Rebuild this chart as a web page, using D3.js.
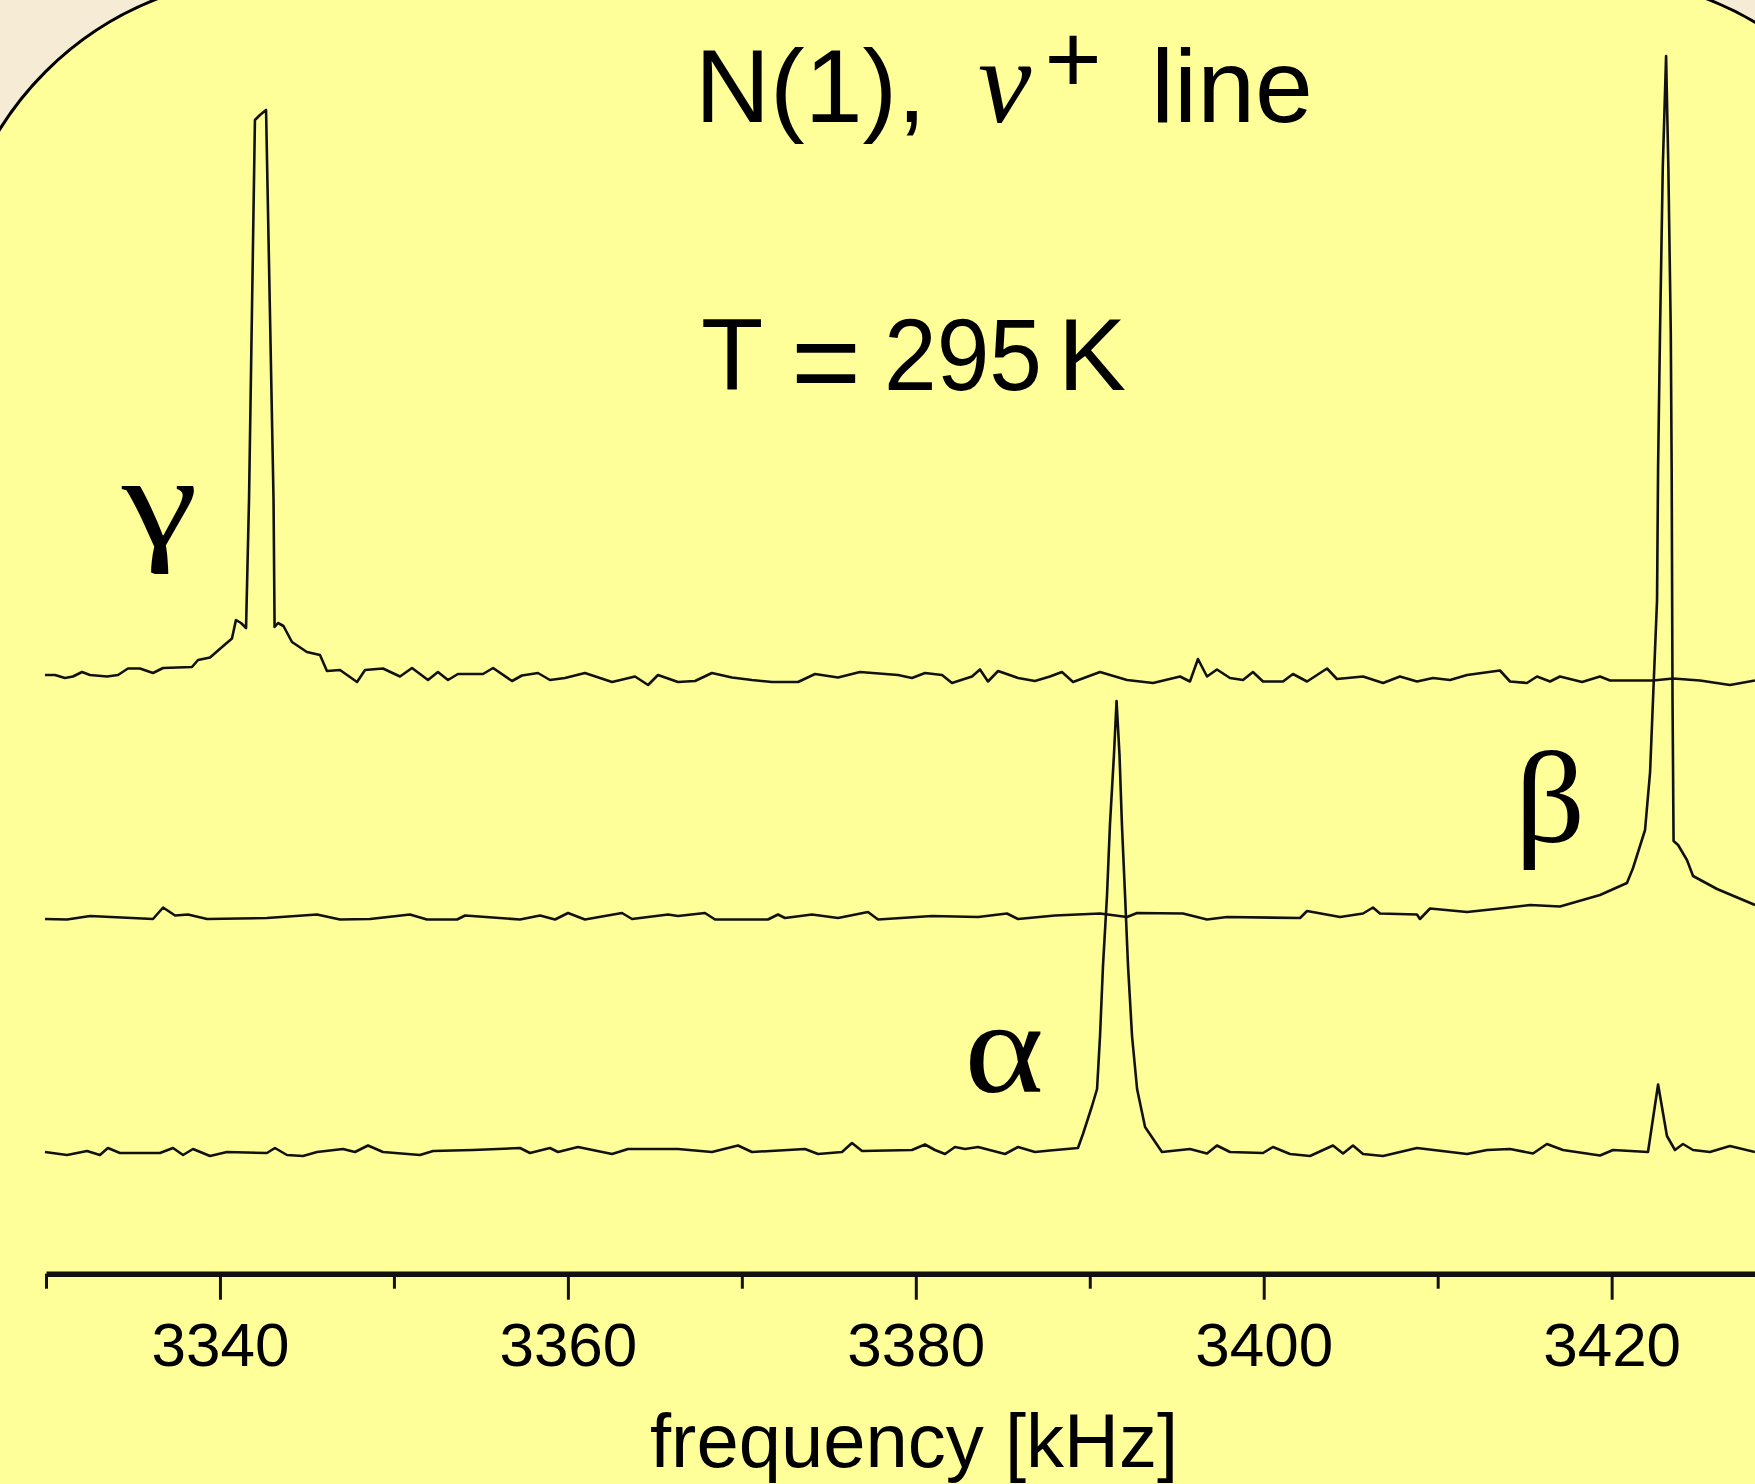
<!DOCTYPE html>
<html>
<head>
<meta charset="utf-8">
<script src="https://cdn.jsdelivr.net/npm/d3@7"></script>
<style>
  body { margin: 0; background: #f6ecd6; }
  svg { display: block; }
  .sans { font-family: "Liberation Sans", Arial, sans-serif; }
  .serif { font-family: "Liberation Serif", "Times New Roman", serif; }
</style>
</head>
<body>
<div id="chart"></div>
<script>
// spectra: [frequency kHz, signal a.u. above own baseline]
var gammaTrace = [
  [3329.94, 0.4], [3330.52, 0.4], [3331.09, -0.2], [3331.55, 0.1], [3332.07, 1.0], [3332.53, 0.4],
  [3333.51, 0.1], [3334.14, 0.4], [3334.71, 1.7], [3335.40, 1.7], [3336.15, 0.8], [3336.73, 1.8],
  [3338.39, 2.0], [3338.74, 3.4], [3339.43, 3.9], [3340.12, 6.0], [3340.69, 7.7], [3340.92, 11.4],
  [3341.21, 10.8], [3341.50, 9.8], [3341.67, 35.4], [3342.01, 111.4], [3342.30, 112.4], [3342.65, 113.4],
  [3343.08, 35.4], [3343.14, 10.0], [3343.34, 10.8], [3343.65, 10.2], [3344.14, 7.0], [3345.00, 5.0],
  [3345.75, 4.4], [3346.15, 1.2], [3346.90, 1.4], [3347.88, -1.0], [3348.34, 1.4], [3349.37, 1.7],
  [3350.35, 0.1], [3351.04, 1.8], [3351.96, -0.6], [3352.53, 1.0], [3353.11, -0.6], [3353.68, 0.6],
  [3355.12, 0.6], [3355.70, 1.8], [3356.79, -0.8], [3357.36, 0.3], [3358.28, 0.8], [3358.97, -0.6],
  [3359.83, -0.2], [3360.98, 0.8], [3362.54, -1.0], [3363.86, 0.1], [3364.61, -1.6], [3365.18, 0.4],
  [3366.33, -1.0], [3367.31, -0.8], [3368.28, 0.8], [3369.43, -0.1], [3370.58, -0.6], [3371.73, -1.0],
  [3373.23, -1.0], [3374.21, 0.6], [3375.53, -0.1], [3376.79, 1.0], [3378.98, 0.4], [3379.78, -0.2],
  [3380.53, 0.8], [3381.51, 0.4], [3382.08, -1.2], [3383.23, 0.1], [3383.69, 1.5], [3384.15, -0.9],
  [3384.73, 1.2], [3385.88, -0.2], [3386.85, -0.8], [3387.71, 0.1], [3388.40, 1.0], [3389.04, -1.0],
  [3390.59, 1.0], [3392.14, -0.6], [3393.64, -1.2], [3395.19, 0.1], [3395.76, -0.9], [3396.22, 3.6],
  [3396.74, 0.1], [3397.31, 1.5], [3398.06, -0.2], [3398.81, -0.6], [3399.38, 1.0], [3399.96, -0.9],
  [3401.11, -0.9], [3401.68, 0.6], [3402.49, -0.9], [3403.64, 1.7], [3404.21, -0.4], [3405.71, 0.1],
  [3406.86, -1.2], [3407.83, 0.1], [3408.81, -0.9], [3409.73, -0.2], [3410.71, -0.6], [3411.69, 0.4],
  [3413.58, 1.3], [3414.16, -0.9], [3415.13, -1.2], [3415.71, 0.1], [3416.46, -0.9], [3417.03, 0.1],
  [3418.30, -1.0], [3419.33, 0.1], [3419.91, -0.7], [3422.38, -0.7], [3423.53, -0.3], [3425.08, -0.7],
  [3426.80, -1.6], [3428.24, -0.7]
];

var betaTrace = [
  [3329.94, -0.4], [3331.21, -0.5], [3332.53, 0.2], [3336.15, -0.4], [3336.73, 1.9], [3337.42, 0.3],
  [3338.16, 0.5], [3339.26, -0.4], [3342.70, -0.2], [3345.58, 0.5], [3346.90, -0.5], [3348.63, -0.4],
  [3350.92, 0.5], [3351.90, -0.5], [3353.63, -0.5], [3354.09, 0.3], [3357.25, -0.5], [3358.40, 0.3],
  [3359.26, -0.5], [3360.01, 0.8], [3360.98, -0.5], [3363.11, 0.8], [3363.69, -0.4], [3365.76, 0.5],
  [3366.33, 0.2], [3367.88, 0.8], [3368.46, -0.5], [3371.50, -0.5], [3372.08, 0.5], [3372.48, -0.2],
  [3374.03, 0.5], [3375.53, -0.2], [3377.25, 1.0], [3377.83, -0.5], [3380.93, 0.2], [3383.58, 0.0],
  [3385.24, 0.7], [3385.88, -0.4], [3388.00, 0.3], [3390.59, 0.7], [3392.14, 0.0], [3392.72, 0.8],
  [3395.36, 0.7], [3396.74, -0.5], [3397.89, 0.0], [3402.09, -0.2], [3402.49, 1.2], [3404.39, 0.0],
  [3405.71, 0.7], [3406.28, 1.9], [3406.68, 0.7], [3408.81, 0.5], [3408.98, -0.4], [3409.56, 1.7],
  [3411.69, 1.0], [3413.58, 1.7], [3415.31, 2.4], [3417.03, 2.1], [3419.33, 4.4], [3420.88, 6.8],
  [3421.23, 9.8], [3421.92, 17.4], [3422.21, 29.0], [3422.61, 63.4], [3422.67, 90.0], [3422.78, 116.8],
  [3422.94, 150.0], [3423.13, 172.2], [3423.26, 150.0], [3423.40, 116.8], [3423.45, 90.0], [3423.50, 43.4],
  [3423.56, 15.2], [3423.82, 14.4], [3424.33, 11.4], [3424.68, 8.2], [3426.06, 5.6], [3428.24, 2.4]
];

var alphaTrace = [
  [3329.94, -0.3], [3331.21, -0.9], [3332.36, -0.1], [3333.10, -0.9], [3333.56, 0.5], [3334.25, -0.5],
  [3336.55, -0.5], [3337.30, 0.5], [3337.88, -0.9], [3338.45, 0.3], [3339.43, -1.1], [3340.40, -0.3],
  [3342.70, -0.5], [3343.16, 0.5], [3343.85, -0.9], [3344.77, -1.1], [3345.58, -0.3], [3347.07, 0.3],
  [3347.76, -0.3], [3348.51, 1.0], [3349.37, -0.3], [3351.50, -0.9], [3352.25, -0.1], [3354.55, 0.1],
  [3357.25, 0.5], [3357.82, -0.5], [3358.97, 0.5], [3359.43, -0.3], [3360.58, 0.7], [3362.54, -0.7],
  [3363.46, 0.3], [3366.33, 0.3], [3368.28, -0.3], [3369.78, 1.0], [3370.58, -0.3], [3373.63, 0.3],
  [3374.38, -0.7], [3375.76, -0.3], [3376.33, 1.5], [3376.91, -0.1], [3379.78, 0.1], [3380.53, 1.2],
  [3381.10, 0.1], [3381.68, -0.7], [3382.25, 0.7], [3382.83, 0.3], [3383.58, 0.7], [3385.13, -0.7],
  [3385.88, 0.7], [3386.85, -0.3], [3387.71, 0.0], [3389.32, 0.5], [3389.61, 3.3], [3390.13, 8.9],
  [3390.42, 12.3], [3390.59, 22.9], [3390.76, 36.9], [3390.99, 50.9], [3391.16, 65.1], [3391.39, 79.1],
  [3391.54, 89.9], [3391.71, 79.1], [3391.85, 65.1], [3392.03, 50.9], [3392.20, 36.9], [3392.43, 22.9],
  [3392.72, 12.3], [3393.18, 4.7], [3394.15, -0.3], [3395.76, 0.3], [3396.74, -0.6], [3397.31, 1.0],
  [3398.06, -0.3], [3399.96, -0.5], [3400.53, 0.7], [3401.51, -0.7], [3402.66, -1.1], [3403.98, 1.0],
  [3404.56, -0.6], [3405.13, 1.0], [3405.71, -0.7], [3406.86, -1.1], [3408.81, 0.5], [3411.69, -0.7],
  [3412.84, 0.1], [3414.16, 0.3], [3415.48, -0.6], [3416.28, 1.3], [3417.20, 0.1], [3419.33, -1.0],
  [3420.08, 0.1], [3422.09, -0.3], [3422.67, 13.2], [3423.18, 2.9], [3423.64, 0.1], [3424.10, 1.3],
  [3424.68, 0.1], [3425.65, -0.3], [3426.80, 0.9], [3428.24, -0.3]
];

// vertical offset of each trace (a.u.)
var traceNames = ["alpha", "beta", "gamma"];
var traceOffsets = [0, 46.7, 94.7];
var peakLabels = ["α", "β", "γ"];
var peakLabelFreq = [3385.07, 3416.46, 3336.55];
var peakLabelLevel = [11.7, 61.7, 120.9];
var peakLabelStretch = [1.15, 1.05, 1.3];

var tickValues = [3330, 3340, 3350, 3360, 3370, 3380, 3390, 3400, 3410, 3420];
var majorTicks = [3340, 3360, 3380, 3400, 3420];

var width = 1755, height = 1484;

var svg = d3.select("#chart").append("svg")
  .attr("width", width)
  .attr("height", height);

// beige backdrop and the rounded yellow panel
svg.append("rect").attr("width", width).attr("height", height).attr("fill", "#f6ecd6");
svg.append("rect")
  .attr("x", -49).attr("y", -23)
  .attr("width", 1962).attr("height", 1700)
  .attr("rx", 323).attr("ry", 323)
  .attr("fill", "#ffff99")
  .attr("stroke", "#000")
  .attr("stroke-width", 3);

var x = d3.scaleLinear().domain([3330, 3430]).range([46, 46 + 100 * 17.396]);
var y = d3.scaleLinear().domain([0, 100]).range([1150.5, 650.5]);

var line = d3.line()
  .x(function (d) { return x(d[0]); })
  .y(function (d) { return y(d[1] + d[2]); });

var traces = [alphaTrace, betaTrace, gammaTrace];
traces.forEach(function (tr, i) {
  var pts = tr.map(function (d) { return [d[0], d[1], traceOffsets[i]]; });
  svg.append("path")
    .attr("class", "trace " + traceNames[i])
    .attr("d", line(pts))
    .attr("fill", "none")
    .attr("stroke", "#111")
    .attr("stroke-width", 2.6)
    .attr("stroke-linejoin", "round");
});

// x axis
var xAxis = d3.axisBottom(x)
  .tickValues(tickValues)
  .tickSize(26)
  .tickSizeOuter(0)
  .tickFormat(function (d) { return majorTicks.indexOf(d) >= 0 ? d : ""; });

var gx = svg.append("g")
  .attr("class", "xAxis sans")
  .attr("transform", "translate(0,1273.7)")
  .call(xAxis);

gx.select(".domain").attr("stroke", "#111").attr("stroke-width", 5.5);
gx.selectAll(".tick line")
  .attr("stroke", "#111")
  .attr("stroke-width", 3)
  .attr("y2", function (d) { return majorTicks.indexOf(d) >= 0 ? 26 : 15; });
gx.selectAll(".tick text")
  .attr("y", 92)
  .attr("dy", 0)
  .attr("fill", "#000")
  .attr("font-family", "Liberation Sans, Arial, sans-serif")
  .attr("font-size", 62);

svg.append("text")
  .attr("class", "sans")
  .attr("x", 914).attr("y", 1467)
  .attr("text-anchor", "middle")
  .attr("font-size", 76)
  .text("frequency [kHz]");

// peak labels
svg.selectAll(".peakLabel")
  .data(peakLabels)
  .enter().append("text")
  .attr("class", "peakLabel serif")
  .attr("transform", function (d, i) {
    return "translate(" + x(peakLabelFreq[i]) + "," + y(peakLabelLevel[i]) + ") scale(" + peakLabelStretch[i] + ",1)";
  })
  .attr("text-anchor", "middle")
  .attr("font-size", 132)
  .text(function (d) { return d; });

// title
var title = svg.append("g").attr("class", "title");
title.append("text").attr("class", "sans").attr("x", 695).attr("y", 122)
  .attr("font-size", 104).text("N(1),");
title.append("text").attr("class", "serif").attr("x", 978).attr("y", 122)
  .attr("font-size", 120).attr("font-style", "italic").text("ν");
title.append("text").attr("class", "sans").attr("x", 1073).attr("y", 93)
  .attr("text-anchor", "middle").attr("font-size", 98).text("+");
title.append("text").attr("class", "sans").attr("x", 1151).attr("y", 122)
  .attr("font-size", 104).text("line");

title.append("text").attr("class", "sans").attr("x", 701).attr("y", 390)
  .attr("font-size", 102).text("T");
title.append("text").attr("class", "sans").attr("x", 826).attr("y", 403)
  .attr("text-anchor", "middle").attr("font-size", 120).text("=");
title.append("text").attr("class", "sans").attr("x", 884).attr("y", 390)
  .attr("font-size", 102).attr("textLength", 158).attr("lengthAdjust", "spacingAndGlyphs").text("295");
title.append("text").attr("class", "sans").attr("x", 1058).attr("y", 390)
  .attr("font-size", 102).text("K");
</script>
</body>
</html>
